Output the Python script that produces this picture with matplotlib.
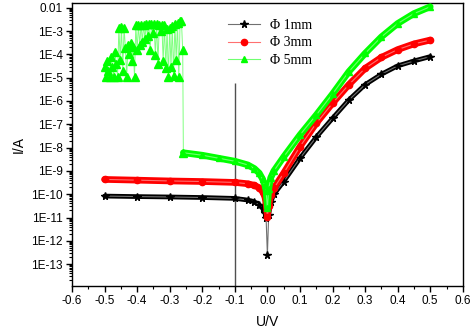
import matplotlib
matplotlib.use('Agg')
import matplotlib.pyplot as plt
import matplotlib.ticker as mticker
import numpy as np

# bias voltage (V) and current (A)
black_v = np.array([-0.5, -0.4, -0.3, -0.2, -0.1, -0.06, -0.04, -0.025, -0.015, -0.008, -0.004, 0.0,
                    0.004, 0.01, 0.02, 0.05, 0.1, 0.15, 0.2, 0.25, 0.3, 0.35, 0.4, 0.45, 0.5])
black_i = np.array([8.3e-11, 7.9e-11, 7.6e-11, 7.2e-11, 6.6e-11, 5.6e-11, 4.7e-11, 3.5e-11, 2.5e-11, 1.6e-11, 1e-11, 2.5e-13,
                    1.3e-11, 4.5e-11, 1e-10, 3.5e-10, 3.5e-9, 2.8e-8, 1.8e-7, 1.1e-6, 5e-6, 1.4e-5, 3.2e-5, 5.2e-5, 8e-5])

red_v = black_v.copy()
red_i = np.array([4.3e-10, 4e-10, 3.7e-10, 3.5e-10, 3.2e-10, 2.8e-10, 2.4e-10, 1.9e-10, 1.3e-10, 8e-11, 4e-11, 1.1e-11,
                  3.2e-11, 9e-11, 1.8e-10, 8e-10, 1.1e-8, 1.1e-7, 8e-7, 5e-6, 2.5e-5, 7.4e-5, 1.6e-4, 2.8e-4, 4.1e-4])

# green: noisy breakdown region first, then the smooth branch
green_noise_v = np.array([-0.500, -0.496, -0.492, -0.488, -0.484, -0.480, -0.476, -0.472, -0.468, -0.464,
                          -0.460, -0.456, -0.452, -0.448, -0.444, -0.440, -0.436, -0.432, -0.428, -0.424,
                          -0.420, -0.416, -0.412, -0.408, -0.404, -0.400, -0.396, -0.392, -0.388, -0.384,
                          -0.380, -0.376, -0.372, -0.368, -0.364, -0.360, -0.356, -0.352, -0.348, -0.344,
                          -0.340, -0.336, -0.332, -0.328, -0.324, -0.320, -0.316, -0.312, -0.308, -0.304,
                          -0.300, -0.296, -0.292, -0.288, -0.284, -0.280, -0.276, -0.272, -0.268, -0.264, -0.260])
green_noise_i = np.array([3e-5, 1.1e-5, 5e-5, 2e-5, 1.1e-5, 8e-5, 3e-5, 1.1e-5, 1.2e-4, 4e-5,
                          1.1e-5, 1.4e-3, 6e-5, 1.5e-3, 2e-5, 1.4e-3, 1.8e-4, 1.1e-5, 2.5e-4, 1e-4,
                          3e-4, 5e-5, 2e-4, 1.1e-5, 1.8e-3, 1.5e-4, 1.8e-3, 2.5e-4, 1.9e-3, 3.5e-4,
                          1.9e-3, 4.5e-4, 2e-3, 6e-4, 2e-3, 1.5e-4, 2e-3, 8e-4, 2e-3, 9e-5,
                          2e-3, 4e-5, 1.9e-3, 1e-3, 1.9e-3, 5e-5, 1.8e-3, 2.5e-5, 1.2e-3, 1.1e-5,
                          1.4e-3, 3e-5, 1.6e-3, 1.2e-5, 2e-3, 6e-5, 2.2e-3, 1.1e-5, 2.6e-3, 2.8e-3, 1.5e-4])
green_v = np.array([-0.258, -0.2, -0.15, -0.1, -0.06, -0.04, -0.025, -0.015, -0.008, -0.004, 0.0,
                    0.004, 0.01, 0.02, 0.05, 0.1, 0.15, 0.2, 0.25, 0.3, 0.35, 0.4, 0.45, 0.5])
green_i = np.array([6e-9, 4.7e-9, 3.5e-9, 2.6e-9, 1.8e-9, 1.26e-9, 8e-10, 4.5e-10, 2.5e-10, 1.4e-10, 2.5e-11,
                    1.6e-10, 5e-10, 1e-9, 4e-9, 3.5e-8, 2.5e-7, 2e-6, 1.8e-5, 1.1e-4, 5.6e-4, 2.1e-3, 5.6e-3, 1.1e-2])

labels = ['\u03a6 1mm', '\u03a6 3mm', '\u03a6 5mm']
y_ticks = [1e-13, 1e-12, 1e-11, 1e-10, 1e-9, 1e-8, 1e-7, 1e-6, 1e-5, 1e-4, 1e-3, 1e-2]
x_ticks = [-0.6, -0.5, -0.4, -0.3, -0.2, -0.1, 0.0, 0.1, 0.2, 0.3, 0.4, 0.5, 0.6]

plt.rcParams.update({
    'font.family': 'Liberation Sans',
    'font.size': 8.5,
    'xtick.direction': 'out',
    'ytick.direction': 'out',
})

fig = plt.figure(figsize=(4.72, 3.28), dpi=100)
ax = fig.add_axes([0.1525, 0.128, 0.828, 0.862])
ax.set_yscale('log')

# dense measurements render as a solid band, draw it first
keep = black_v != 0.0
ax.plot(black_v[keep], black_i[keep], color='black', lw=3.4, solid_capstyle='round', zorder=2)
ax.plot(black_v, black_i, color='#707070', lw=0.8, marker='*', ms=5.5, mfc='black', mec='black',
        label=labels[0], zorder=3)

ax.plot(red_v, red_i, color='red', lw=4.8, solid_capstyle='round', zorder=4)
ax.plot(red_v, red_i, color='#ff7070', lw=0.8, marker='o', ms=4.5, mfc='red', mec='red',
        label=labels[1], zorder=5)

ax.plot(np.r_[green_noise_v, green_v[:1]], np.r_[green_noise_i, green_i[:1]],
        color='#80ff80', lw=0.7, marker='^', ms=5.5, mfc='#00ff00', mec='#00ff00', zorder=6)
ax.plot(green_v, green_i, color='#00ff00', lw=4.8, solid_capstyle='round', zorder=6)
ax.plot(green_v, green_i, color='#70ff70', lw=0.8, marker='^', ms=5, mfc='#00ff00', mec='#00ff00',
        label=labels[2], zorder=7)

ylo, yhi = 1.15e-14, 1.55e-2
ax.vlines(-0.1, ylo, 6e-6, color='#505050', lw=1.0, zorder=1)

ax.set_xlim(-0.6, 0.6)
ax.set_ylim(ylo, yhi)
ax.set_xticks(x_ticks)
ax.xaxis.set_major_formatter(mticker.FormatStrFormatter('%.1f'))
ax.xaxis.set_minor_locator(mticker.MultipleLocator(0.05))
ax.set_yticks(y_ticks)
ax.yaxis.set_major_formatter(mticker.FuncFormatter(
    lambda v, p: '0.01' if abs(v - 1e-2) < 1e-6 else '1E%d' % round(np.log10(v))))
ax.yaxis.set_minor_locator(mticker.LogLocator(base=10, subs=np.arange(2, 10), numticks=30))
ax.yaxis.set_minor_formatter(mticker.NullFormatter())
ax.tick_params(which='major', length=4.5, width=1, pad=2)
ax.tick_params(which='minor', length=2.5, width=0.8)
ax.tick_params(top=False, right=False, which='both')
for s in ax.spines.values():
    s.set_linewidth(1)

ax.set_xlabel('U/V', fontsize=10, labelpad=6)
ax.set_ylabel('I/A', fontsize=10, labelpad=4)

ax.legend(loc='upper left', bbox_to_anchor=(0.40, 0.945), frameon=False,
          prop={'family': 'Liberation Serif', 'size': 10},
          handlelength=2.3, handletextpad=0.7, labelspacing=0.33,
          borderpad=0, borderaxespad=0)

fig.savefig('out.png', dpi=100)
